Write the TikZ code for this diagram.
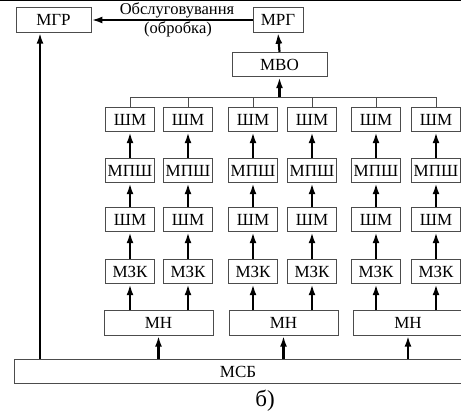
\documentclass[tikz,border=0pt]{standalone}
\usepackage{fontspec}
\setmainfont{Liberation Serif}
\usetikzlibrary{arrows.meta}
\begin{document}
\begin{tikzpicture}[x=1pt,y=-1pt,
  box/.style={draw=black!70,line width=0.9pt,fill=white,inner sep=0pt,minimum height=24.5pt,font=\fontsize{17}{20}\selectfont},
  sbox/.style={box,minimum width=49pt},
  arr/.style={line width=2.2pt,-{Latex[length=11pt,width=7pt]}},
  bus/.style={draw=black!70,line width=0.9pt}]
\clip (0,0) rectangle (461,415);
\fill[white] (0,0) rectangle (461,415);
\coordinate (tl) at (0,0.6);
\coordinate (tr) at (461,0.6);
\draw[line width=1.2pt] (tl) -- (tr);
% top nodes
\node[box,minimum width=75pt] (mgr) at (53.5,20) {МГР};
\node[box,minimum width=50pt] (mrg) at (278,20) {МРГ};
\node[box,minimum width=95pt] (mvo) at (279.5,64.5) {МВО};
\node[font=\fontsize{16.5}{19}\selectfont] (t1) at (177,10.5) {Обслуговування};
\node[font=\fontsize{16.5}{19}\selectfont] (t2) at (178,29) {(обробка)};
\draw[arr] (mrg.west) -- (mgr.east);
\draw[arr] (mvo.north) -- (mrg.south);
% columns
\foreach \i/\x in {1/130,2/188,3/253,4/312,5/376,6/436}{
  \node[sbox] (sma\i) at (\x,119.5) {ШМ};
  \node[sbox] (mp\i) at (\x,170.5) {МПШ};
  \node[sbox] (smb\i) at (\x,219.5) {ШМ};
  \node[sbox] (mz\i) at (\x,271.5) {МЗК};
  \draw[arr] (mp\i.north) -- (sma\i.south);
  \draw[arr] (smb\i.north) -- (mp\i.south);
  \draw[arr] (mz\i.north) -- (smb\i.south);
}
% bus
\coordinate (bus) at (0,97);
\draw[bus] (sma1.north) |- (sma6.north |- bus) -- (sma6.north);
\foreach \i in {2,3,4,5}{\draw[bus] (sma\i.north) -- (sma\i.north |- bus);}
\draw[arr] (mvo.south |- bus) -- (mvo.south);
% MN
\node[box,minimum width=109pt] (mn1) at (158.5,323) {МН};
\node[box,minimum width=109pt] (mn2) at (283.5,323) {МН};
\node[box,minimum width=109pt] (mn3) at (408,323) {МН};
\draw[arr] (mz1.south |- mn1.north) -- (mz1.south);
\draw[arr] (mz2.south |- mn1.north) -- (mz2.south);
\draw[arr] (mz3.south |- mn2.north) -- (mz3.south);
\draw[arr] (mz4.south |- mn2.north) -- (mz4.south);
\draw[arr] (mz5.south |- mn3.north) -- (mz5.south);
\draw[arr] (mz6.south |- mn3.north) -- (mz6.south);
% MSB
\node[box,minimum width=448pt] (msb) at (238,371.5) {МСБ};
\draw[arr] (mn1.south |- msb.north) -- (mn1.south);
\draw[arr] (mn2.south |- msb.north) -- (mn2.south);
\draw[arr] (mn3.south |- msb.north) -- (mn3.south);
\coordinate (mgrx) at (40,0);
\draw[arr] (msb.north -| mgrx) -- (mgr.south -| mgrx);
\node[font=\fontsize{23}{26}\selectfont] (cap) at (265,401) {б)};
\end{tikzpicture}
\end{document}
